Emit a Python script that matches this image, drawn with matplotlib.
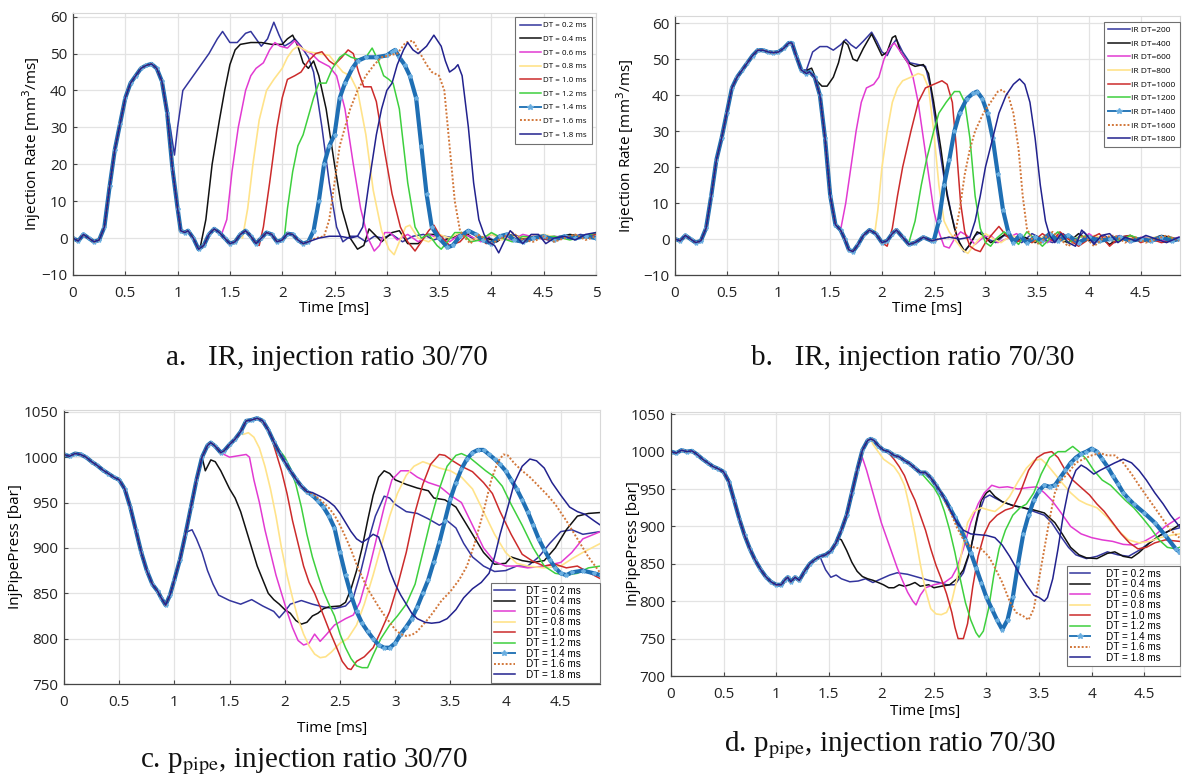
import matplotlib
matplotlib.use('Agg')
import matplotlib.pyplot as plt
import numpy as np

plt.rcParams['font.family'] = ['Open Sans', 'DejaVu Sans']

# ---------------- labels ----------------
LABELS_DT = ['DT = 0.2 ms', 'DT = 0.4 ms', 'DT = 0.6 ms', 'DT = 0.8 ms', 'DT = 1.0 ms',
             'DT = 1.2 ms', 'DT = 1.4 ms', 'DT = 1.6 ms', 'DT = 1.8 ms']
LABELS_IR = ['IR DT=200', 'IR DT=400', 'IR DT=600', 'IR DT=800', 'IR DT=1000',
             'IR DT=1200', 'IR DT=1400', 'IR DT=1600', 'IR DT=1800']
CAPTIONS = ['a.   IR, injection ratio 30/70', 'b.   IR, injection ratio 70/30',
            r'c. p$_{\rm pipe}$, injection ratio 30/70', r'd. p$_{\rm pipe}$, injection ratio 70/30']

# ---------------- panel a: injection rate, 30/70 ----------------
A_BASE = [(0, 0), (0.05, -0.8), (0.1, 1), (0.15, 0), (0.2, -1), (0.25, -0.5), (0.3, 3), (0.35, 14), (0.4, 24),
          (0.45, 31), (0.5, 38), (0.55, 42), (0.6, 44), (0.65, 46), (0.7, 46.8), (0.75, 47.2), (0.8, 46),
          (0.85, 42.5), (0.9, 34), (0.95, 19), (1.0, 8), (1.03, 2), (1.07, 1.5), (1.1, 2), (1.15, 0), (1.2, -3),
          (1.25, -2), (1.3, 1), (1.35, 2.5), (1.4, 1.5), (1.45, 0), (1.5, -1.5), (1.55, -1), (1.6, 1), (1.65, 2),
          (1.7, 0.5), (1.75, -1.5), (1.8, 0), (1.85, 1.5), (1.9, 1), (1.95, -1), (2.0, -0.5), (2.05, 1.2),
          (2.1, 1), (2.15, -0.5), (2.2, -1.5)]
A02 = [(0.93, 30), (0.97, 22.5), (1.0, 30), (1.05, 40), (1.1, 42), (1.2, 46), (1.3, 50), (1.38, 54), (1.43, 56),
       (1.5, 53), (1.57, 53), (1.65, 55.5), (1.7, 56), (1.75, 54), (1.8, 52), (1.86, 54), (1.92, 58.5), (1.97, 55),
       (2.02, 52), (2.08, 53), (2.12, 54), (2.18, 52), (2.25, 49), (2.3, 45), (2.38, 30), (2.45, 15), (2.52, 3),
       (2.58, -1), (2.65, 0.5), (2.72, 0.5), (2.8, -1), (2.88, 0.5), (2.96, 0), (3.05, 1), (3.15, -1), (3.25, 0.5),
       (3.35, 1), (3.45, -0.5), (3.55, 0.5), (3.65, 0), (3.75, 1), (3.85, -0.5), (3.95, 0.5), (4.05, -1), (4.15, 1),
       (4.25, -0.5), (4.35, 0.5), (4.45, 0), (4.55, -0.5), (4.65, 0.5), (4.75, 0), (4.85, 1), (4.95, 0.5), (5.0, 1)]
A04 = [(1.22, -2), (1.27, 5), (1.33, 20), (1.4, 32), (1.45, 40), (1.5, 47), (1.55, 51), (1.6, 52.5), (1.7, 53),
       (1.8, 53), (1.9, 52.5), (2.0, 52.5), (2.05, 54), (2.1, 55), (2.15, 52), (2.2, 47.5), (2.25, 46), (2.3, 48),
       (2.35, 44), (2.42, 35), (2.5, 20), (2.57, 8), (2.65, 0), (2.72, -3), (2.78, -2), (2.83, 2.5), (2.9, 0.5),
       (2.95, -1), (3.05, 1.5), (3.12, 2), (3.2, -1.5), (3.3, -1.5), (3.38, 1), (3.45, 1), (3.55, -0.5), (3.65, 0.5),
       (3.75, 1.5), (3.85, -0.5), (3.95, 0), (4.05, -1), (4.15, 1), (4.25, 0.5), (4.35, -0.5), (4.5, 0.5), (4.6, 0),
       (4.75, 1), (4.85, 0.5), (5.0, 1)]
A06 = [(1.42, 1), (1.47, 5), (1.52, 18), (1.58, 30), (1.65, 40), (1.7, 44), (1.75, 46), (1.82, 47.5), (1.88, 51),
       (1.93, 53), (1.98, 52), (2.05, 51.5), (2.12, 53.5), (2.2, 51), (2.28, 50), (2.35, 48), (2.45, 46.5),
       (2.52, 44), (2.6, 35), (2.68, 20), (2.75, 8), (2.82, 0), (2.88, -3.5), (2.93, -2), (2.98, 1.5), (3.03, 1.5),
       (3.1, -0.5), (3.2, 1), (3.3, -1), (3.4, 1), (3.5, 0), (3.6, -1), (3.7, 1), (3.8, 0.5), (3.9, -1), (4.0, 1),
       (4.1, 0), (4.2, -0.5), (4.3, 1), (4.45, 0), (4.6, 0.5), (4.75, 0), (4.9, 0.5), (5.0, 1)]
A08 = [(1.62, 0), (1.67, 8), (1.72, 20), (1.78, 32), (1.85, 40), (1.92, 43), (2.0, 46), (2.05, 49), (2.1, 51),
       (2.15, 52), (2.25, 50.5), (2.35, 50), (2.45, 49.5), (2.52, 47), (2.58, 45), (2.65, 44), (2.72, 40),
       (2.8, 28), (2.87, 13), (2.95, 2), (3.02, -3), (3.07, -4.5), (3.12, -1), (3.18, 3), (3.22, 3.5), (3.3, 0),
       (3.4, -1), (3.5, 1), (3.6, 0), (3.7, 1.5), (3.8, -0.5), (3.9, 0), (4.0, 1), (4.1, -0.5), (4.2, 0.5),
       (4.35, 0), (4.5, 1), (4.65, 0), (4.8, 0.5), (5.0, 0.5)]
A10 = [(1.78, -2), (1.82, 3), (1.88, 15), (1.95, 30), (2.0, 38), (2.05, 43), (2.12, 44), (2.18, 45), (2.25, 48),
       (2.32, 50), (2.38, 50.5), (2.45, 48), (2.5, 47), (2.57, 49), (2.63, 51), (2.68, 50), (2.73, 45), (2.78, 41),
       (2.85, 41), (2.9, 37), (2.97, 25), (3.05, 12), (3.13, 3), (3.2, -1), (3.27, -3.5), (3.33, -1), (3.4, 2),
       (3.45, 3.5), (3.5, 1), (3.6, -2), (3.7, -1), (3.78, 1.5), (3.85, 1), (3.95, -1.5), (4.05, -0.5), (4.15, 1),
       (4.25, -1), (4.4, 0.5), (4.55, -0.5), (4.7, 0.5), (4.85, 0), (5.0, 1)]
A12 = [(2.02, 0), (2.05, 8), (2.1, 18), (2.15, 25), (2.2, 28), (2.25, 33), (2.3, 38), (2.35, 42), (2.42, 42),
       (2.48, 46), (2.55, 49), (2.6, 50), (2.66, 49), (2.72, 48.5), (2.8, 49), (2.86, 51.5), (2.92, 48), (2.97, 44),
       (3.02, 43), (3.06, 42), (3.12, 35), (3.2, 15), (3.27, 3), (3.33, 0), (3.4, 1), (3.48, -2), (3.52, -3),
       (3.58, -1), (3.65, 1.5), (3.72, 1.5), (3.8, -1), (3.9, -0.5), (4.0, 1.5), (4.1, 0), (4.2, -1), (4.3, 0.5),
       (4.45, 0), (4.6, 0.5), (4.75, -0.5), (4.9, 0.5), (5.0, 1.5)]
A14 = [(2.25, -1), (2.3, 2), (2.35, 10), (2.4, 20), (2.45, 25), (2.5, 28), (2.55, 38), (2.6, 42), (2.67, 46),
       (2.72, 48), (2.8, 49), (2.9, 49), (3.0, 49.5), (3.05, 50.5), (3.08, 51), (3.12, 49), (3.17, 47), (3.22, 44),
       (3.28, 38), (3.33, 25), (3.38, 12), (3.43, 3), (3.5, 0), (3.58, -2.5), (3.63, -2), (3.7, 0.5), (3.78, 2),
       (3.85, 1), (3.92, -0.5), (4.0, -1.5), (4.08, 0.5), (4.15, 1), (4.22, -0.5), (4.3, -1), (4.4, 0), (4.5, 0.5),
       (4.6, -0.5), (4.7, 0.5), (4.8, 0), (4.9, 0.5), (5.0, 0)]
A16 = [(2.25, -1), (2.32, 0), (2.4, 0.5), (2.45, 5), (2.5, 15), (2.55, 25), (2.6, 30), (2.65, 35), (2.72, 40),
       (2.8, 44), (2.88, 47), (2.95, 49), (3.02, 49.5), (3.1, 50), (3.18, 53), (3.25, 53.5), (3.3, 51), (3.38, 47),
       (3.43, 45), (3.5, 44), (3.55, 40), (3.6, 25), (3.65, 10), (3.7, 2), (3.75, 0), (3.8, -1.5), (3.87, 1),
       (3.93, 0), (4.0, -1.5), (4.1, 0), (4.2, 1.5), (4.3, -0.5), (4.4, -1), (4.5, 0.5), (4.6, -1), (4.7, 0),
       (4.8, 1), (4.9, -0.5), (5.0, 0.5)]
A18 = [(2.25, -1), (2.35, 0), (2.45, 0.5), (2.55, 0.5), (2.65, 0), (2.72, 0.5), (2.77, 3), (2.83, 15), (2.9, 28),
       (2.95, 35), (3.0, 40), (3.05, 42), (3.1, 47), (3.16, 51), (3.2, 53), (3.25, 51), (3.3, 50), (3.38, 52),
       (3.45, 55), (3.52, 52), (3.56, 48), (3.6, 45), (3.65, 46), (3.68, 47), (3.72, 44), (3.78, 30), (3.83, 15),
       (3.88, 5), (3.93, 1), (3.97, -1), (4.03, -2), (4.07, -4), (4.12, -1), (4.18, 2), (4.25, 0), (4.3, -1.5),
       (4.38, 1), (4.45, 1), (4.52, -1.5), (4.6, 0), (4.7, 0.5), (4.8, -0.5), (4.9, 1), (5.0, 1.5)]

# ---------------- panel b: injection rate, 70/30 ----------------
B_BASE = [(0, 0), (0.05, -0.5), (0.1, 1), (0.15, 0), (0.2, -1), (0.25, -0.5), (0.3, 3), (0.35, 12), (0.4, 22),
          (0.45, 28), (0.5, 35), (0.55, 42), (0.6, 45), (0.65, 47), (0.7, 49), (0.75, 51), (0.8, 52.5),
          (0.85, 52.5), (0.9, 52), (0.95, 51.8), (1.0, 52), (1.05, 53), (1.1, 54.5), (1.13, 54.5), (1.17, 51),
          (1.22, 47), (1.27, 46), (1.3, 46.5), (1.35, 45), (1.4, 40), (1.45, 28), (1.5, 12), (1.55, 4), (1.6, 2.5),
          (1.64, 0), (1.68, -3), (1.72, -3.5), (1.77, -1.5), (1.82, 1), (1.88, 2.5), (1.94, 1.5), (2.0, -1),
          (2.05, -0.5), (2.1, 1.5), (2.14, 2.5), (2.2, 0.5), (2.26, -1.5), (2.32, -1), (2.4, 0.5), (2.48, -0.5),
          (2.55, 0), (2.65, 0.5), (2.75, 0), (2.85, 0.5)]
B02 = [(1.27, 47), (1.33, 52), (1.4, 53.5), (1.47, 53.5), (1.53, 52.5), (1.6, 54), (1.65, 55.5), (1.7, 54),
       (1.75, 53), (1.82, 55), (1.9, 57.5), (1.95, 55), (2.0, 52), (2.05, 51), (2.1, 54), (2.14, 55.5), (2.2, 52),
       (2.27, 49), (2.35, 48.5), (2.42, 48), (2.47, 42), (2.53, 30), (2.6, 17), (2.67, 7), (2.73, 0), (2.79, -3.5),
       (2.84, -2), (2.9, 1), (2.96, 2), (3.02, 0), (3.1, -1), (3.18, 1), (3.25, 0.5), (3.35, -1), (3.45, 1.5),
       (3.55, 0), (3.65, -1), (3.75, 1.5), (3.85, -1), (3.95, 2), (4.05, -1), (4.15, 1), (4.25, -1), (4.35, 0.5),
       (4.45, -0.5), (4.55, 0.5), (4.65, -0.5), (4.75, 0.5), (4.87, 0)]
B04 = [(1.28, 47), (1.32, 47.5), (1.37, 44), (1.42, 42.5), (1.47, 42.5), (1.53, 45), (1.58, 49), (1.63, 55),
       (1.67, 54), (1.72, 50), (1.76, 49.5), (1.82, 53), (1.9, 57), (1.95, 54), (2.0, 51), (2.05, 52), (2.1, 56),
       (2.13, 56.5), (2.18, 52), (2.25, 49), (2.32, 48), (2.4, 48.5), (2.45, 46), (2.5, 38), (2.57, 25), (2.63, 12),
       (2.7, 3), (2.75, -1), (2.8, -3.5), (2.86, -1), (2.92, 2), (2.98, 1), (3.05, -1), (3.12, 0), (3.2, 1.5),
       (3.28, -0.5), (3.38, 0.5), (3.48, -1), (3.58, 1), (3.7, 0), (3.8, -1), (3.9, 1.5), (4.0, -0.5), (4.1, 0.5),
       (4.2, -1.5), (4.3, 0.5), (4.4, 1), (4.5, -0.5), (4.6, 0), (4.7, 1), (4.87, 0)]
B06 = [(1.6, 2.5), (1.65, 10), (1.7, 20), (1.75, 30), (1.8, 38), (1.85, 42), (1.92, 43), (1.97, 45), (2.02, 50),
       (2.07, 53), (2.12, 54.5), (2.18, 52), (2.25, 49), (2.3, 45), (2.35, 38), (2.4, 28), (2.45, 18), (2.5, 8),
       (2.55, 2), (2.6, -2), (2.65, -2.5), (2.7, 0), (2.76, 2), (2.82, 1), (2.9, -1.5), (2.98, 0.5), (3.05, 1),
       (3.12, -1), (3.2, 0), (3.3, 1.5), (3.4, -0.5), (3.5, 0.5), (3.6, -1), (3.7, 1), (3.8, 0), (3.9, -1),
       (4.0, 1.5), (4.1, -0.5), (4.2, 0), (4.3, 1), (4.4, -1), (4.5, 0.5), (4.6, 0), (4.7, -0.5), (4.87, 0.5)]
B08 = [(1.93, 1.5), (1.96, 8), (2.0, 20), (2.05, 30), (2.1, 38), (2.15, 42), (2.2, 44), (2.28, 45), (2.35, 46),
       (2.4, 45.5), (2.45, 42), (2.5, 30), (2.55, 15), (2.6, 5), (2.65, 2), (2.7, 0), (2.78, -3), (2.83, -4),
       (2.88, -2), (2.94, 0), (3.0, 1.5), (3.08, 0), (3.15, -1), (3.25, 1), (3.35, 0), (3.45, -1), (3.55, 0.5),
       (3.65, 1), (3.75, -0.5), (3.85, 0.5), (3.95, -1), (4.05, 1), (4.15, 0), (4.25, -0.5), (4.35, 0.5),
       (4.5, 0), (4.65, 0.5), (4.87, 0)]
B10 = [(2.05, -2), (2.1, 3), (2.15, 12), (2.2, 20), (2.28, 30), (2.35, 38), (2.42, 42), (2.5, 43), (2.58, 44),
       (2.63, 43), (2.68, 38), (2.72, 25), (2.76, 10), (2.8, 2), (2.85, -2), (2.9, -3), (2.95, -3.5), (3.0, -1),
       (3.07, 1.5), (3.13, 3.5), (3.2, 1), (3.28, -1), (3.38, 0), (3.45, -1), (3.55, 1.5), (3.65, -0.5), (3.72, 2),
       (3.8, 0), (3.9, -2), (4.0, 0), (4.1, 1.5), (4.2, -2), (4.3, 0.5), (4.4, 1), (4.5, -1), (4.6, 0), (4.7, -1),
       (4.87, 0)]
B12 = [(2.27, 0), (2.32, 5), (2.38, 15), (2.43, 22), (2.5, 30), (2.55, 35), (2.62, 38), (2.7, 41), (2.75, 41),
       (2.8, 38), (2.85, 28), (2.9, 12), (2.95, 3), (3.0, -1), (3.05, -2), (3.1, 0), (3.18, 2), (3.25, 0.5),
       (3.32, -1.5), (3.4, 2), (3.48, 0), (3.55, -2), (3.62, 0), (3.7, 2), (3.8, -1), (3.9, 0.5), (4.0, 1),
       (4.1, -1), (4.2, 0.5), (4.3, -0.5), (4.4, 1), (4.55, -0.5), (4.7, 0.5), (4.87, 0)]
B14 = [(2.5, -0.5), (2.55, 5), (2.6, 15), (2.65, 22), (2.7, 30), (2.75, 35), (2.82, 39), (2.88, 40.5), (2.92, 41),
       (2.97, 39), (3.02, 35), (3.07, 28), (3.12, 18), (3.17, 8), (3.22, 2), (3.27, -1), (3.33, 1), (3.4, -1),
       (3.48, 0.5), (3.55, -0.5), (3.62, 1.5), (3.7, -0.5), (3.8, 1), (3.9, -1), (4.0, 0.5), (4.1, -0.5),
       (4.2, 0), (4.3, 0.5), (4.4, -0.5), (4.5, 0), (4.6, -0.5), (4.7, 0.5), (4.8, -0.5), (4.87, 0)]
B16 = [(2.7, 0.5), (2.75, 8), (2.8, 18), (2.85, 25), (2.9, 30), (2.98, 35), (3.05, 38), (3.12, 41), (3.16, 41.5),
       (3.22, 40), (3.27, 35), (3.32, 25), (3.36, 12), (3.4, 3), (3.45, 0), (3.52, -1.5), (3.58, 0.5), (3.65, 2),
       (3.72, 0), (3.8, -2), (3.88, 0), (3.95, 1), (4.05, -2), (4.15, 0.5), (4.25, 1), (4.35, -1), (4.45, 0.5),
       (4.55, -1), (4.65, 0), (4.75, 1), (4.87, -0.5)]
B18 = [(2.85, 0.5), (2.9, 5), (2.95, 12), (3.0, 20), (3.07, 28), (3.13, 35), (3.2, 40), (3.27, 43), (3.33, 44.5),
       (3.38, 43), (3.43, 38), (3.48, 28), (3.53, 15), (3.58, 5), (3.62, 1), (3.67, -1), (3.73, 1.5), (3.8, -1),
       (3.87, -2), (3.93, 2.5), (3.98, 1), (4.05, -1.5), (4.12, 1), (4.2, 1.5), (4.28, -1), (4.35, 0.5),
       (4.45, -0.5), (4.55, 1), (4.65, 0), (4.75, -1), (4.87, 0.5)]

# ---------------- panel c: pipe pressure, 30/70 ----------------
C_BASE = [(0, 1003), (0.05, 1001), (0.1, 1004), (0.15, 1003), (0.2, 1000), (0.25, 995), (0.3, 991), (0.35, 986),
          (0.4, 982), (0.45, 978), (0.5, 975), (0.55, 965), (0.6, 945), (0.65, 920), (0.7, 895), (0.75, 875),
          (0.8, 860), (0.85, 852), (0.88, 845), (0.92, 837), (0.96, 848), (1.0, 865), (1.05, 887), (1.1, 915),
          (1.15, 945), (1.2, 975), (1.25, 1000), (1.3, 1013), (1.33, 1016), (1.37, 1012), (1.42, 1005),
          (1.45, 1007), (1.5, 1014), (1.55, 1020), (1.6, 1028), (1.65, 1040), (1.7, 1041), (1.75, 1043),
          (1.8, 1040), (1.85, 1030), (1.9, 1017), (1.95, 1005), (2.0, 995), (2.05, 985), (2.1, 976), (2.15, 968),
          (2.2, 962)]
C02 = [(1.12, 918), (1.16, 920), (1.2, 910), (1.25, 895), (1.3, 875), (1.35, 860), (1.4, 848), (1.5, 842),
       (1.6, 838), (1.7, 843), (1.8, 836), (1.9, 830), (1.95, 823), (2.0, 830), (2.05, 838), (2.15, 842),
       (2.25, 838), (2.35, 835), (2.45, 833), (2.55, 836), (2.62, 845), (2.68, 870), (2.75, 905), (2.82, 935),
       (2.9, 957), (2.95, 955), (3.0, 948), (3.1, 940), (3.2, 938), (3.3, 932), (3.4, 925), (3.47, 930),
       (3.55, 922), (3.62, 905), (3.7, 890), (3.8, 880), (3.9, 874), (4.0, 875), (4.1, 880), (4.2, 880),
       (4.3, 890), (4.4, 905), (4.5, 918), (4.6, 920), (4.7, 915), (4.86, 918)]
C04 = [(1.28, 985), (1.33, 997), (1.37, 995), (1.42, 985), (1.5, 965), (1.55, 955), (1.6, 940), (1.65, 920),
       (1.7, 900), (1.75, 880), (1.8, 865), (1.85, 850), (1.9, 843), (1.95, 838), (2.0, 832), (2.05, 828),
       (2.1, 820), (2.15, 816), (2.2, 818), (2.25, 825), (2.3, 828), (2.35, 833), (2.4, 835), (2.5, 836),
       (2.55, 840), (2.6, 855), (2.65, 875), (2.7, 900), (2.75, 930), (2.8, 958), (2.85, 978), (2.9, 985),
       (2.95, 982), (3.0, 975), (3.1, 970), (3.2, 966), (3.3, 963), (3.35, 955), (3.45, 953), (3.55, 945),
       (3.6, 935), (3.7, 915), (3.8, 895), (3.9, 882), (4.0, 883), (4.05, 890), (4.15, 886), (4.25, 884),
       (4.35, 886), (4.45, 900), (4.55, 920), (4.65, 935), (4.75, 938), (4.86, 939)]
C06 = [(1.4, 1010), (1.45, 1003), (1.5, 1000), (1.55, 1001), (1.6, 1002), (1.65, 1003), (1.68, 1000),
       (1.72, 975), (1.77, 950), (1.82, 920), (1.87, 895), (1.92, 870), (1.97, 850), (2.02, 830), (2.07, 812),
       (2.12, 798), (2.17, 793), (2.22, 795), (2.27, 805), (2.32, 797), (2.38, 805), (2.45, 815), (2.55, 822),
       (2.62, 826), (2.68, 840), (2.75, 870), (2.82, 905), (2.9, 945), (2.97, 975), (3.05, 985), (3.12, 985),
       (3.2, 978), (3.3, 972), (3.4, 968), (3.5, 958), (3.6, 950), (3.7, 925), (3.8, 900), (3.9, 885), (4.0, 880),
       (4.1, 880), (4.2, 878), (4.35, 880), (4.5, 884), (4.6, 895), (4.7, 910), (4.86, 918)]
C08 = [(1.62, 1025), (1.67, 1027), (1.72, 1022), (1.77, 1010), (1.82, 990), (1.87, 965), (1.92, 935), (1.97, 900),
       (2.02, 870), (2.07, 845), (2.12, 822), (2.17, 805), (2.22, 792), (2.27, 783), (2.32, 779), (2.37, 780),
       (2.42, 785), (2.5, 795), (2.57, 800), (2.65, 815), (2.72, 838), (2.8, 870), (2.88, 905), (2.95, 935),
       (3.02, 960), (3.1, 980), (3.17, 990), (3.25, 995), (3.32, 992), (3.4, 988), (3.5, 985), (3.6, 978),
       (3.7, 965), (3.8, 940), (3.9, 915), (4.0, 895), (4.1, 883), (4.2, 880), (4.35, 878), (4.5, 880),
       (4.6, 888), (4.7, 895), (4.86, 905)]
C10 = [(1.77, 1041), (1.82, 1035), (1.87, 1025), (1.92, 1005), (1.97, 985), (2.02, 960), (2.07, 930), (2.12, 905),
       (2.17, 880), (2.22, 862), (2.27, 850), (2.32, 835), (2.4, 810), (2.47, 790), (2.52, 775), (2.57, 767),
       (2.6, 766), (2.65, 775), (2.72, 780), (2.8, 790), (2.87, 808), (2.95, 830), (3.02, 858), (3.1, 895),
       (3.17, 935), (3.25, 970), (3.32, 992), (3.4, 1003), (3.45, 1002), (3.52, 996), (3.6, 990), (3.7, 984),
       (3.8, 972), (3.88, 960), (3.95, 940), (4.05, 915), (4.15, 893), (4.25, 885), (4.35, 880), (4.45, 882),
       (4.55, 878), (4.65, 880), (4.75, 873), (4.86, 866)]
C12 = [(1.9, 1018), (1.95, 1008), (2.0, 1000), (2.05, 988), (2.1, 970), (2.15, 945), (2.2, 915), (2.25, 890),
       (2.3, 870), (2.35, 852), (2.4, 838), (2.45, 825), (2.5, 805), (2.55, 790), (2.6, 778), (2.65, 770),
       (2.7, 768), (2.75, 768), (2.8, 782), (2.87, 800), (2.95, 815), (3.02, 825), (3.1, 838), (3.18, 860),
       (3.25, 895), (3.32, 930), (3.4, 965), (3.47, 990), (3.55, 1002), (3.6, 1004), (3.67, 1000), (3.75, 992),
       (3.82, 985), (3.9, 978), (3.97, 968), (4.05, 948), (4.15, 925), (4.25, 900), (4.35, 880), (4.45, 872),
       (4.55, 870), (4.65, 872), (4.75, 878), (4.86, 880)]
C14 = [(2.25, 958), (2.3, 952), (2.35, 945), (2.4, 935), (2.45, 922), (2.5, 895), (2.55, 870), (2.6, 848),
       (2.65, 830), (2.7, 817), (2.75, 808), (2.8, 800), (2.85, 793), (2.9, 790), (2.95, 790), (3.0, 795),
       (3.05, 805), (3.1, 813), (3.15, 822), (3.2, 835), (3.25, 850), (3.3, 865), (3.35, 885), (3.4, 906),
       (3.45, 930), (3.5, 954), (3.55, 972), (3.6, 987), (3.65, 998), (3.7, 1005), (3.75, 1008), (3.8, 1008),
       (3.85, 1003), (3.9, 998), (3.95, 992), (4.0, 985), (4.05, 975), (4.1, 965), (4.15, 953), (4.2, 940),
       (4.25, 925), (4.3, 910), (4.35, 898), (4.4, 887), (4.45, 878), (4.5, 872), (4.55, 870), (4.6, 873),
       (4.7, 875), (4.8, 872), (4.86, 870)]
C16 = [(2.25, 960), (2.3, 955), (2.35, 950), (2.4, 944), (2.45, 936), (2.5, 925), (2.55, 912), (2.6, 898),
       (2.65, 882), (2.7, 868), (2.75, 855), (2.8, 845), (2.85, 835), (2.9, 826), (2.95, 818), (3.0, 810),
       (3.05, 805), (3.1, 803), (3.15, 804), (3.2, 808), (3.25, 815), (3.3, 822), (3.35, 830), (3.42, 842),
       (3.5, 852), (3.58, 865), (3.65, 880), (3.72, 905), (3.8, 940), (3.87, 975), (3.93, 995), (3.98, 1003),
       (4.02, 1002), (4.08, 993), (4.15, 985), (4.22, 978), (4.3, 968), (4.38, 958), (4.45, 948), (4.55, 930),
       (4.65, 910), (4.75, 890), (4.86, 872)]
C18 = [(2.25, 961), (2.3, 958), (2.35, 955), (2.4, 951), (2.45, 946), (2.5, 938), (2.55, 928), (2.6, 918),
       (2.65, 910), (2.7, 906), (2.75, 910), (2.8, 915), (2.85, 912), (2.9, 895), (2.95, 875), (3.0, 860),
       (3.05, 848), (3.1, 838), (3.15, 828), (3.2, 822), (3.27, 818), (3.33, 817), (3.4, 818), (3.47, 822),
       (3.55, 832), (3.62, 845), (3.7, 855), (3.78, 862), (3.85, 872), (3.9, 890), (3.95, 915), (4.02, 945),
       (4.08, 972), (4.15, 990), (4.22, 998), (4.28, 996), (4.35, 988), (4.42, 972), (4.5, 958), (4.58, 945),
       (4.65, 940), (4.72, 937), (4.8, 930), (4.86, 925)]

# ---------------- panel d: pipe pressure, 70/30 ----------------
D_BASE = [(0, 1000), (0.05, 998), (0.1, 1002), (0.15, 1000), (0.2, 1001), (0.25, 996), (0.3, 990), (0.35, 985),
          (0.4, 980), (0.45, 977), (0.5, 973), (0.55, 960), (0.6, 935), (0.65, 910), (0.7, 888), (0.75, 870),
          (0.8, 855), (0.85, 843), (0.9, 833), (0.95, 826), (1.0, 822), (1.05, 822), (1.08, 828), (1.11, 832),
          (1.14, 826), (1.18, 832), (1.22, 828), (1.27, 840), (1.32, 850), (1.37, 856), (1.42, 860), (1.47, 862),
          (1.52, 867), (1.57, 878), (1.62, 895), (1.67, 915), (1.72, 945), (1.77, 975), (1.82, 1002),
          (1.87, 1015), (1.9, 1017), (1.93, 1015), (1.97, 1008), (2.02, 1002), (2.07, 1000), (2.12, 995),
          (2.17, 993), (2.22, 988), (2.27, 984), (2.32, 978), (2.37, 972), (2.42, 972), (2.47, 965), (2.52, 955)]
D02 = [(1.43, 855), (1.47, 842), (1.52, 832), (1.57, 835), (1.62, 830), (1.7, 826), (1.78, 827), (1.85, 830),
       (1.92, 825), (2.0, 830), (2.08, 835), (2.15, 838), (2.25, 836), (2.35, 832), (2.45, 828), (2.55, 825),
       (2.62, 822), (2.7, 822), (2.78, 838), (2.85, 870), (2.92, 915), (2.98, 938), (3.03, 942), (3.08, 938),
       (3.15, 933), (3.25, 928), (3.35, 925), (3.45, 920), (3.55, 915), (3.62, 905), (3.7, 888), (3.78, 872),
       (3.85, 862), (3.95, 857), (4.05, 860), (4.15, 866), (4.25, 862), (4.35, 860), (4.45, 868), (4.55, 878),
       (4.65, 888), (4.75, 895), (4.834, 898)]
D04 = [(1.58, 885), (1.62, 882), (1.67, 868), (1.72, 852), (1.77, 840), (1.82, 833), (1.87, 830), (1.92, 828),
       (1.97, 825), (2.02, 822), (2.07, 818), (2.12, 818), (2.17, 822), (2.22, 820), (2.27, 822), (2.32, 825),
       (2.37, 820), (2.45, 822), (2.5, 818), (2.57, 820), (2.65, 822), (2.72, 830), (2.78, 842), (2.85, 870),
       (2.9, 905), (2.95, 935), (3.0, 945), (3.03, 948), (3.08, 940), (3.15, 933), (3.25, 928), (3.35, 925),
       (3.45, 922), (3.55, 918), (3.65, 905), (3.72, 890), (3.8, 872), (3.88, 862), (3.95, 858), (4.05, 857),
       (4.15, 864), (4.22, 866), (4.3, 860), (4.38, 858), (4.45, 865), (4.55, 878), (4.65, 888), (4.75, 895),
       (4.834, 902)]
D06 = [(1.79, 980), (1.82, 992), (1.86, 975), (1.9, 955), (1.95, 930), (2.0, 905), (2.05, 885), (2.1, 865),
       (2.15, 845), (2.2, 828), (2.25, 812), (2.3, 800), (2.33, 795), (2.37, 808), (2.42, 818), (2.5, 822),
       (2.6, 825), (2.67, 832), (2.72, 845), (2.78, 870), (2.85, 905), (2.92, 930), (2.98, 945), (3.05, 955),
       (3.12, 952), (3.2, 953), (3.3, 950), (3.4, 952), (3.48, 953), (3.55, 945), (3.62, 935), (3.7, 920),
       (3.8, 900), (3.9, 890), (4.0, 885), (4.1, 882), (4.2, 880), (4.3, 876), (4.4, 875), (4.5, 880),
       (4.6, 888), (4.7, 900), (4.834, 912)]
D08 = [(1.92, 1010), (1.97, 1000), (2.02, 990), (2.07, 985), (2.12, 980), (2.17, 970), (2.22, 955), (2.27, 925),
       (2.32, 890), (2.37, 850), (2.42, 815), (2.47, 790), (2.52, 783), (2.57, 782), (2.62, 785), (2.67, 800),
       (2.72, 830), (2.77, 870), (2.82, 905), (2.88, 920), (2.95, 925), (3.02, 922), (3.08, 920), (3.15, 928),
       (3.22, 940), (3.3, 960), (3.38, 978), (3.45, 988), (3.52, 990), (3.58, 982), (3.65, 970), (3.72, 958),
       (3.8, 945), (3.88, 935), (3.95, 930), (4.05, 925), (4.15, 912), (4.25, 895), (4.35, 882), (4.45, 878),
       (4.55, 880), (4.65, 885), (4.75, 888), (4.834, 890)]
D10 = [(2.07, 998), (2.12, 990), (2.17, 980), (2.22, 968), (2.27, 950), (2.32, 935), (2.37, 915), (2.42, 895),
       (2.47, 870), (2.52, 848), (2.57, 830), (2.62, 810), (2.67, 785), (2.7, 765), (2.73, 750), (2.78, 750),
       (2.82, 770), (2.87, 820), (2.92, 860), (2.98, 890), (3.03, 905), (3.1, 915), (3.18, 922), (3.25, 925),
       (3.32, 945), (3.4, 975), (3.48, 992), (3.55, 998), (3.62, 1000), (3.68, 992), (3.75, 975), (3.82, 962),
       (3.9, 952), (3.98, 942), (4.05, 930), (4.12, 920), (4.2, 905), (4.28, 890), (4.36, 878), (4.44, 870),
       (4.52, 872), (4.6, 878), (4.7, 882), (4.834, 880)]
D12 = [(2.35, 975), (2.4, 968), (2.45, 960), (2.5, 952), (2.55, 940), (2.6, 920), (2.65, 895), (2.7, 865),
       (2.75, 830), (2.8, 798), (2.85, 775), (2.9, 758), (2.93, 752), (2.97, 760), (3.02, 790), (3.07, 835),
       (3.12, 870), (3.18, 895), (3.25, 915), (3.32, 925), (3.38, 930), (3.45, 945), (3.52, 970), (3.6, 992),
       (3.68, 1000), (3.75, 1000), (3.82, 1007), (3.88, 1000), (3.95, 990), (4.02, 975), (4.1, 962), (4.18, 955),
       (4.25, 945), (4.32, 935), (4.4, 925), (4.48, 912), (4.56, 898), (4.64, 882), (4.72, 872), (4.8, 870),
       (4.834, 872)]
D14 = [(2.55, 948), (2.6, 938), (2.65, 925), (2.7, 912), (2.75, 898), (2.8, 882), (2.85, 865), (2.9, 845),
       (2.95, 825), (3.0, 805), (3.05, 790), (3.1, 775), (3.15, 762), (3.2, 775), (3.25, 805), (3.3, 850),
       (3.35, 890), (3.4, 915), (3.45, 935), (3.5, 948), (3.55, 955), (3.6, 953), (3.65, 955), (3.7, 965),
       (3.75, 975), (3.8, 985), (3.85, 992), (3.9, 997), (3.95, 1000), (4.0, 1004), (4.05, 1000), (4.1, 990),
       (4.15, 980), (4.2, 968), (4.25, 957), (4.3, 945), (4.35, 937), (4.4, 930), (4.5, 918), (4.6, 905),
       (4.7, 888), (4.8, 870), (4.834, 866)]
D16 = [(2.57, 945), (2.62, 930), (2.67, 915), (2.72, 898), (2.77, 885), (2.82, 875), (2.88, 872), (2.95, 870),
       (3.02, 860), (3.08, 845), (3.15, 825), (3.22, 800), (3.28, 785), (3.35, 780), (3.4, 775), (3.45, 790),
       (3.5, 830), (3.55, 870), (3.6, 910), (3.65, 945), (3.7, 960), (3.78, 972), (3.85, 985), (3.92, 990),
       (4.0, 995), (4.08, 998), (4.15, 995), (4.22, 995), (4.3, 985), (4.38, 970), (4.45, 955), (4.55, 935),
       (4.65, 915), (4.75, 895), (4.834, 885)]
D18 = [(2.57, 945), (2.62, 932), (2.67, 918), (2.72, 905), (2.78, 895), (2.85, 890), (2.92, 889), (3.0, 888),
       (3.08, 885), (3.15, 875), (3.22, 860), (3.3, 840), (3.38, 822), (3.45, 808), (3.5, 805), (3.55, 800),
       (3.58, 805), (3.63, 830), (3.68, 870), (3.73, 915), (3.78, 950), (3.85, 975), (3.9, 982), (3.95, 978),
       (4.02, 970), (4.08, 975), (4.15, 980), (4.22, 985), (4.3, 990), (4.38, 985), (4.45, 975), (4.52, 962),
       (4.6, 945), (4.68, 930), (4.75, 915), (4.834, 900)]

# ---------------- styles ----------------
COLORS = ['#33359d', '#111111', '#e23ad2', '#ffe38a', '#cc2b2b', '#3ed03e', '#1f6fb4', '#d2773a', '#22228e']
GRID = '#e3e3e3'
AX_DARK = '#454545'


def full_series(base, pts):
    t0 = pts[0][0]
    pre = [p for p in base if p[0] < t0 - 1e-9]
    arr = np.array(pre + list(pts), dtype=float)
    return arr[:, 0], arr[:, 1]


def draw_panel(ax, base, series, labels):
    for i, pts in enumerate(series):
        t, v = full_series(base, pts)
        kw = dict(color=COLORS[i], lw=1.1, label=labels[i])
        if i == 6:
            kw.update(lw=3.0, marker='*', ms=3.0, mfc='#6aaee0', mec='#6aaee0', markevery=1)
        elif i == 7:
            kw.update(lw=1.4, ls=(0, (1, 1)))
        elif i == 3:
            kw.update(lw=1.2)
        ax.plot(t, v, **kw)


def style_axes(ax, xlim, ylim, yticks, xticks):
    ax.set_xlim(*xlim)
    ax.set_ylim(*ylim)
    ax.set_yticks(yticks)
    ax.set_xticks(xticks)
    ax.set_xticklabels([('%g' % x) for x in xticks])
    ax.grid(True, color=GRID, lw=0.9)
    ax.set_axisbelow(True)
    for s in ['left', 'bottom']:
        ax.spines[s].set_color(AX_DARK)
        ax.spines[s].set_linewidth(0.9)
    for s in ['top', 'right']:
        ax.spines[s].set_color('#d8d8d8')
        ax.spines[s].set_linewidth(0.8)
    ax.tick_params(direction='in', length=3, width=0.8, color=AX_DARK, labelsize=11,
                   labelcolor='#222222')
    ax.tick_params(axis='x', pad=8)
    ax.tick_params(axis='y', pad=4)


def style_legend(leg):
    leg.get_frame().set_edgecolor('#707070')
    leg.get_frame().set_linewidth(0.8)
    for ln in leg.get_lines():
        if ln.get_linewidth() > 2:
            ln.set_linewidth(1.4)
            ln.set_markersize(4)
            ln.set_markevery([1])
            ln.set_color('#2a78b8')


fig = plt.figure(figsize=(11.9, 7.77), dpi=100)
W, H = 1190.0, 777.0


def add_axes(l, r, t, b):
    return fig.add_axes([l / W, 1 - b / H, (r - l) / W, (b - t) / H])


XT5 = [0, 0.5, 1, 1.5, 2, 2.5, 3, 3.5, 4, 4.5, 5]
XT45 = [0, 0.5, 1, 1.5, 2, 2.5, 3, 3.5, 4, 4.5]
IR_YT = [-10, 0, 10, 20, 30, 40, 50, 60]
PAD_LABELS = [s + '      ' for s in LABELS_DT]

# panel a
axa = add_axes(73, 596, 13, 275)
draw_panel(axa, A_BASE, [A02, A04, A06, A08, A10, A12, A14, A16, A18], LABELS_DT)
style_axes(axa, (0, 5), (-10, 61), IR_YT, XT5)
axa.set_ylabel('Injection Rate [mm$^3$/ms]', fontsize=11)
axa.yaxis.set_label_coords(-0.058, 0.5)
axa.set_xlabel('Time [ms]', fontsize=11, labelpad=0)
style_legend(axa.legend(loc='upper right', bbox_to_anchor=(0.992, 0.985), fontsize=5.8, handlelength=2.6,
                        handletextpad=0.3, labelspacing=0.75, borderaxespad=0, fancybox=False,
                        framealpha=1, borderpad=0.6))

# panel b
axb = add_axes(675, 1180, 16, 275)
draw_panel(axb, B_BASE, [B02, B04, B06, B08, B10, B12, B14, B16, B18], LABELS_IR)
style_axes(axb, (0, 4.88), (-10, 62), IR_YT, XT45)
axb.set_ylabel('Injection Rate [mm$^3$/ms]', fontsize=11)
axb.yaxis.set_label_coords(-0.076, 0.5)
axb.set_xlabel('Time [ms]', fontsize=11, labelpad=0)
style_legend(axb.legend(loc='upper right', bbox_to_anchor=(1.0, 0.977), fontsize=6.0, handlelength=2.6,
                        handletextpad=0.2, labelspacing=0.7, borderaxespad=0, fancybox=False,
                        framealpha=1, borderpad=0.5))

# panel c
axc = add_axes(64, 600, 410, 684)
draw_panel(axc, C_BASE, [C02, C04, C06, C08, C10, C12, C14, C16, C18], PAD_LABELS)
style_axes(axc, (0, 4.855), (750, 1052), [750, 800, 850, 900, 950, 1000, 1050], XT45)
axc.set_ylabel('InjPipePress [bar]', fontsize=11)
axc.yaxis.set_label_coords(-0.076, 0.5)
axc.set_xlabel('Time [ms]', fontsize=11, labelpad=8)
style_legend(axc.legend(loc='lower right', bbox_to_anchor=(1.0, 0.004), prop={'family': 'Liberation Sans',
                        'size': 7.2}, handlelength=2.1, handletextpad=1.1, labelspacing=0.05,
                        borderaxespad=0, fancybox=False, framealpha=1, borderpad=0.3))

# panel d
axd = add_axes(671, 1180, 412, 676)
draw_panel(axd, D_BASE, [D02, D04, D06, D08, D10, D12, D14, D16, D18], PAD_LABELS)
style_axes(axd, (0, 4.84), (700, 1053), [700, 750, 800, 850, 900, 950, 1000, 1050], XT45)
axd.set_ylabel('InjPipePress [bar]', fontsize=11)
axd.yaxis.set_label_coords(-0.059, 0.5)
axd.set_xlabel('Time [ms]', fontsize=11, labelpad=1)
style_legend(axd.legend(loc='lower right', bbox_to_anchor=(1.0, 0.038), prop={'family': 'Liberation Sans',
                        'size': 7.2}, handlelength=2.0, handletextpad=1.6, labelspacing=0.05,
                        borderaxespad=0, fancybox=False, framealpha=1, borderpad=0.3))

# captions
cap_kw = dict(family=['Liberation Serif', 'DejaVu Serif'], fontsize=21, ha='center', va='center',
              math_fontfamily='stix', color='#111111')
fig.text(327 / W, 1 - 358 / H, CAPTIONS[0], **cap_kw)
fig.text(913 / W, 1 - 358 / H, CAPTIONS[1], **cap_kw)
fig.text(304 / W, 1 - 762 / H, CAPTIONS[2], **cap_kw)
fig.text(890 / W, 1 - 745 / H, CAPTIONS[3], **cap_kw)

fig.savefig('out.png', dpi=100)
